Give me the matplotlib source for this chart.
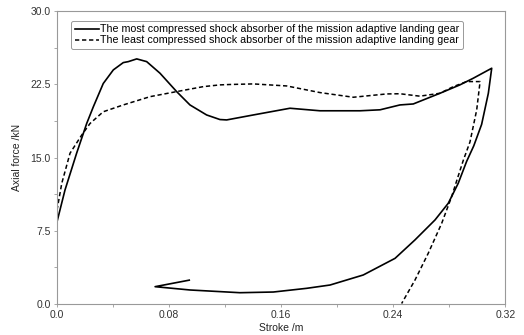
import matplotlib.pyplot as plt
from matplotlib.ticker import MultipleLocator

plt.rcParams["font.family"] = ["Liberation Sans", "DejaVu Sans"]

# solid: most compressed shock absorber (stroke in m, force in kN)
most_stroke = [0.0, 0.0, 0.0057, 0.0140, 0.0212, 0.0259, 0.033, 0.0402, 0.0473,
               0.0509, 0.0569, 0.064, 0.0735, 0.0854, 0.0949, 0.1068, 0.1163,
               0.1211, 0.1401, 0.1663, 0.1877, 0.2163, 0.2306, 0.2448, 0.2543,
               0.2734, 0.2876, 0.2971, 0.3103, 0.3079, 0.3031, 0.2975, 0.2924,
               0.2864, 0.2793, 0.2698, 0.2555, 0.2413, 0.2186, 0.1949, 0.1782,
               0.1544, 0.1306, 0.0949, 0.070, 0.0944]
most_force = [0.0, 8.4, 11.66, 15.44, 18.5, 20.2, 22.6, 24.0, 24.75,
              24.85, 25.13, 24.85, 23.66, 21.77, 20.4, 19.37, 18.9,
              18.86, 19.37, 20.06, 19.8, 19.8, 19.9, 20.4, 20.5,
              21.6, 22.46, 23.14, 24.17, 21.6, 18.4, 16.2, 14.6,
              12.35, 10.3, 8.58, 6.53, 4.64, 2.93, 1.9, 1.56,
              1.18, 1.11, 1.39, 1.73, 2.4]

# dashed: least compressed shock absorber
least_stroke = [0.0, 0.0034, 0.0093, 0.0176, 0.0236, 0.033, 0.0473, 0.0664,
                0.0854, 0.1044, 0.1163, 0.1235, 0.1401, 0.164, 0.1877, 0.2115,
                0.2353, 0.2448, 0.259, 0.2734, 0.2829, 0.2924, 0.302, 0.2996,
                0.2948, 0.29, 0.2864, 0.2817, 0.2746, 0.265, 0.2555, 0.246]
least_force = [9.6, 12.35, 15.44, 17.3, 18.5, 19.7, 20.4, 21.25,
               21.77, 22.28, 22.46, 22.5, 22.56, 22.35, 21.67, 21.19,
               21.53, 21.55, 21.3, 21.6, 22.28, 22.8, 22.8, 19.9,
               16.6, 14.7, 13.1, 10.98, 8.24, 5.16, 2.4, 0.0]

x_ticks = [0.0, 0.08, 0.16, 0.24, 0.32]
x_labels = ["0.0", "0.08", "0.16", "0.24", "0.32"]
y_ticks = [0.0, 7.5, 15.0, 22.5, 30.0]
y_labels = ["0.0", "7.5", "15.0", "22.5", "30.0"]

fig = plt.figure(figsize=(5.24, 3.35), dpi=100)
ax = fig.add_axes([0.1088, 0.094, 0.8555, 0.8717])

ax.plot(most_stroke, most_force, color="black", lw=1.2,
        label="The most compressed shock absorber of the mission adaptive landing gear")
ax.plot(least_stroke, least_force, color="black", lw=1.1, ls=(0, (2.8, 1.8)),
        label="The least compressed shock absorber of the mission adaptive landing gear")

ax.set_xlim(0, 0.32)
ax.set_ylim(0, 30)
ax.set_xticks(x_ticks)
ax.set_xticklabels(x_labels)
ax.set_yticks(y_ticks)
ax.set_yticklabels(y_labels)
ax.xaxis.set_minor_locator(MultipleLocator(0.04))
ax.yaxis.set_minor_locator(MultipleLocator(3.75))
ax.tick_params(which="both", length=2.5, width=0.6, color="#999999",
               labelsize=7.5, labelcolor="#333333", pad=2)
for s in ax.spines.values():
    s.set_color("#999999")
    s.set_linewidth(0.8)

ax.set_xlabel("Stroke /m", fontsize=7.5, color="#222222", labelpad=2)
ax.set_ylabel("Axial force /kN", fontsize=7.5, color="#222222", labelpad=6)

leg = ax.legend(loc="upper left", bbox_to_anchor=(0.02, 0.985), fontsize=7.7,
                handlelength=2.25, handletextpad=0.15, borderpad=0.3,
                labelspacing=0.1, fancybox=True, framealpha=1)
leg.get_frame().set_edgecolor("#999999")
leg.get_frame().set_linewidth(0.7)

fig.savefig("out.png", dpi=100)
